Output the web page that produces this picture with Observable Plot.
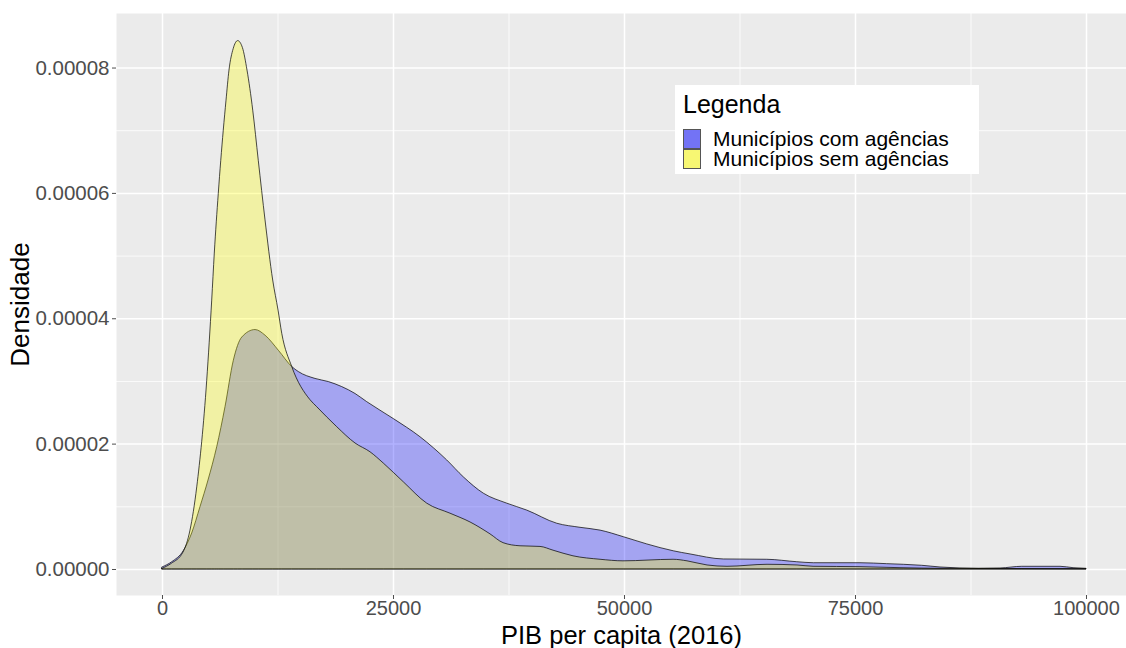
<!DOCTYPE html>
<html>
<head>
<meta charset="utf-8">
<script src="https://cdn.jsdelivr.net/npm/d3@7"></script>
<script src="https://cdn.jsdelivr.net/npm/@observablehq/plot@0.6"></script>
<style>
  html, body { margin: 0; padding: 0; background: #ffffff; }
  #wrap { position: relative; width: 1126px; height: 648px; overflow: hidden; font-family: "Liberation Sans", Arial, sans-serif; }
  #legend { position: absolute; left: 675px; top: 85px; width: 304px; height: 89px; background: #ffffff; }
  #legend .title { position: absolute; left: 8px; top: 7px; font-size: 25px; line-height: 25px; color: #000; white-space: nowrap; }
  #legend .sw { position: absolute; left: 8px; width: 18px; height: 20px; border: 1px solid #555; box-sizing: border-box; }
  #legend .labs { position: absolute; left: 38px; top: 44px; font-size: 21px; line-height: 20px; color: #000; white-space: pre; }
</style>
</head>
<body>
<div id="wrap"></div>
<script>
// ---- Data ----
const pibComAgencias = [0, 1050, 2300, 3210, 4110, 4980, 5920, 6820, 7720, 8630, 10070, 11150, 12590, 14040, 14750, 16560, 18000, 19450, 20890, 22150, 25030, 27920, 30810, 32610, 34770, 37310, 39470, 42720, 45240, 47410, 49930, 52460, 55340, 57150, 60750, 65450, 68690, 70490, 75540, 78430, 80230, 82220, 84200, 88320, 90700, 93050, 97190, 98600, 100000];
const densComAgencias = [3.2e-7, 1.16e-6, 2.92e-6, 5.74e-6, 9.94e-6, 1.42e-5, 1.95e-5, 2.59e-5, 3.33e-5, 3.70e-5, 3.82e-5, 3.73e-5, 3.49e-5, 3.23e-5, 3.15e-5, 3.04e-5, 2.99e-5, 2.91e-5, 2.80e-5, 2.67e-5, 2.40e-5, 2.11e-5, 1.74e-5, 1.47e-5, 1.21e-5, 1.05e-5, 9.4e-6, 7.3e-6, 6.65e-6, 6.2e-6, 5.15e-6, 4.0e-6, 2.9e-6, 2.4e-6, 1.6e-6, 1.55e-6, 1.16e-6, 1.0e-6, 1.0e-6, 8.5e-7, 7.5e-7, 5.9e-7, 3.2e-7, 1.1e-7, 1.6e-7, 4.3e-7, 4.3e-7, 2.1e-7, 1.1e-7];

const pibSemAgencias = [0, 1000, 2270, 3030, 3760, 4840, 5380, 5660, 6090, 6630, 6930, 7250, 7700, 8190, 8700, 9200, 9820, 10420, 11150, 11980, 12560, 12960, 14040, 16020, 16740, 18910, 20890, 22510, 23950, 26120, 28650, 31170, 33340, 35500, 36910, 38750, 40910, 42320, 44480, 47410, 49890, 55310, 56820, 58990, 61150, 65480, 68730, 70460, 75540, 79870, 84200, 90700, 100000];
const densSemAgencias = [1e-7, 9e-7, 2.7e-6, 6.2e-6, 1.31e-5, 3.01e-5, 4.29e-5, 5.04e-5, 5.99e-5, 7.00e-5, 7.48e-5, 7.96e-5, 8.30e-5, 8.43e-5, 8.32e-5, 7.96e-5, 7.32e-5, 6.52e-5, 5.57e-5, 4.61e-5, 4.13e-5, 3.76e-5, 3.23e-5, 2.70e-5, 2.59e-5, 2.27e-5, 2.01e-5, 1.87e-5, 1.69e-5, 1.39e-5, 1.05e-5, 8.9e-6, 7.5e-6, 5.6e-6, 4.2e-6, 3.7e-6, 3.6e-6, 3.0e-6, 2.1e-6, 1.55e-6, 1.3e-6, 1.55e-6, 1.3e-6, 6.4e-7, 4.3e-7, 7.5e-7, 6.4e-7, 4.3e-7, 3.7e-7, 2.1e-7, 1.1e-7, 8e-8, 5e-8];

const seriesNames = ["Municípios com agências", "Municípios sem agências"];
const seriesColors = ["#0000FF", "#FFFF00"];
const legendSwatches = ["#7373F5", "#F7F773"];

const xTicks = [0, 25000, 50000, 75000, 100000];
const xMinor = [12500, 37500, 62500, 87500];
const yTicks = [0, 0.00002, 0.00004, 0.00006, 0.00008];
const yMinor = [0.00001, 0.00003, 0.00005, 0.00007];

const xLabel = "PIB per capita (2016)";
const yLabel = "Densidade";
const legendTitle = "Legenda";

// ---- Build tables ----
const com = pibComAgencias.map((x, i) => ({x, y: densComAgencias[i]}));
const sem = pibSemAgencias.map((x, i) => ({x, y: densSemAgencias[i]}));

const chart = Plot.plot({
  width: 1126,
  height: 648,
  marginLeft: 116,
  marginRight: 0,
  marginTop: 13,
  marginBottom: 53,
  style: {fontFamily: "'Liberation Sans', Arial, sans-serif", background: "#ffffff"},
  x: {domain: [-4978, 104330]},
  y: {domain: [-0.00000415, 0.0000887]},
  marks: [
    Plot.frame({fill: "#EBEBEB", stroke: null}),
    Plot.ruleX(xMinor, {stroke: "#ffffff", strokeWidth: 0.8}),
    Plot.ruleY(yMinor, {stroke: "#ffffff", strokeWidth: 0.8}),
    Plot.ruleX(xTicks, {stroke: "#ffffff", strokeWidth: 1.5}),
    Plot.ruleY(yTicks, {stroke: "#ffffff", strokeWidth: 1.5}),
    Plot.areaY(com, {x: "x", y: "y", fill: seriesColors[0], fillOpacity: 0.3, stroke: "#000000", strokeWidth: 0.7, curve: "monotone-x"}),
    Plot.areaY(sem, {x: "x", y: "y", fill: seriesColors[1], fillOpacity: 0.3, stroke: "#000000", strokeWidth: 0.7, curve: "monotone-x"}),
    Plot.axisX({ticks: xTicks, tickFormat: d => String(d), tickSize: 4, tickPadding: 1, fontSize: 20, color: "#4D4D4D", label: null}),
    Plot.axisY({ticks: yTicks, tickFormat: d3.format(".5f"), tickSize: 4, tickPadding: 3, fontSize: 20.5, color: "#4D4D4D", label: null}),
    Plot.text([xLabel], {frameAnchor: "bottom", dy: 40, lineAnchor: "middle", fontSize: 25.5, fill: "#000000", text: d => d}),
    Plot.text([yLabel], {frameAnchor: "left", dx: -96, rotate: -90, lineAnchor: "middle", textAnchor: "middle", fontSize: 26, fill: "#000000", text: d => d})
  ]
});

const wrap = document.getElementById("wrap");
wrap.appendChild(chart);

// ---- Legend (HTML overlay) ----
const legend = document.createElement("div");
legend.id = "legend";
const t = document.createElement("div");
t.className = "title";
t.textContent = legendTitle;
legend.appendChild(t);
seriesNames.forEach((name, i) => {
  const sw = document.createElement("div");
  sw.className = "sw";
  sw.style.top = (44 + i * 20) + "px";
  sw.style.background = legendSwatches[i];
  legend.appendChild(sw);
});
const labs = document.createElement("div");
labs.className = "labs";
labs.textContent = seriesNames.join("\n");
legend.appendChild(labs);
wrap.appendChild(legend);
</script>
</body>
</html>
